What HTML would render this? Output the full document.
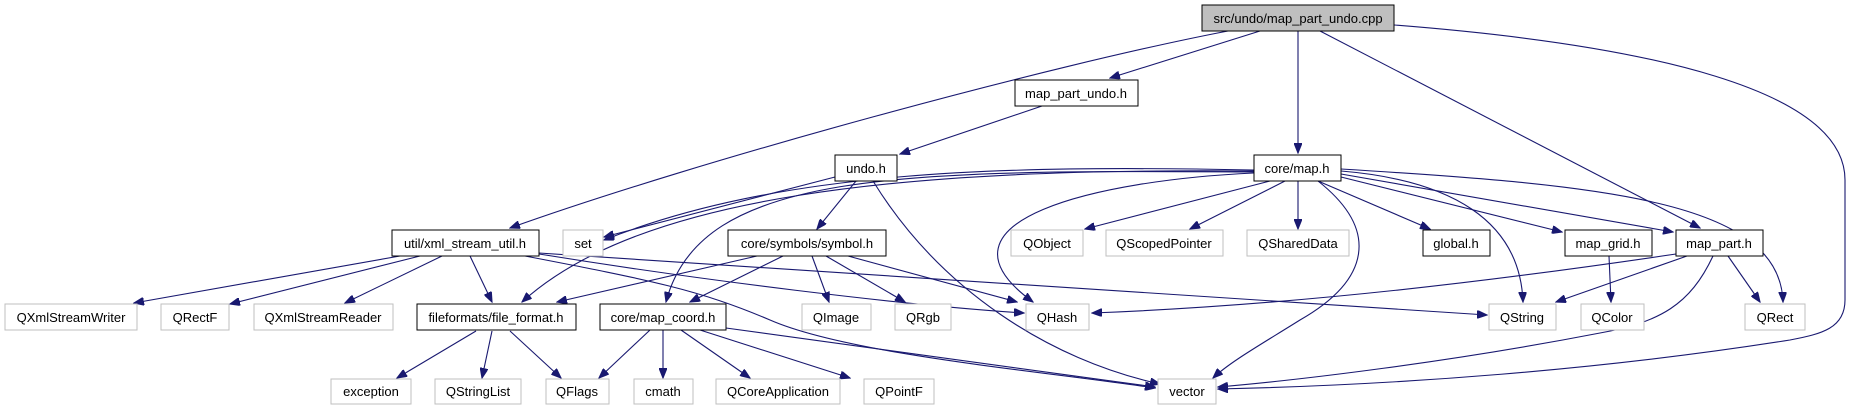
<!DOCTYPE html>
<html><head><meta charset="utf-8"><style>
html,body{margin:0;padding:0;background:#fff;width:1857px;height:411px;overflow:hidden}
svg{display:block}
text{font-family:"Liberation Sans",sans-serif;font-size:13px;text-anchor:middle;fill:#000}
.b{fill:#fff;stroke:#000;stroke-width:1}
.g{fill:#fff;stroke:#bfbfbf;stroke-width:1}
path{fill:none;stroke:#191970;stroke-width:1.1}
</style></head><body>
<svg width="1857" height="411" viewBox="0 0 1857 411" xmlns="http://www.w3.org/2000/svg">
<defs><marker id="a" markerWidth="11" markerHeight="8" refX="10" refY="4" orient="auto" markerUnits="userSpaceOnUse"><path d="M0,0 L10,4 L0,8 Z" style="fill:#191970;stroke:#191970"/></marker></defs>
<g marker-end="url(#a)">
<path d="M1228,31 C1050,65 700,160 510,228"/>
<path d="M1260,31 L1110,78"/>
<path d="M1298,31 L1298,153"/>
<path d="M1320,31 L1700,228"/>
<path d="M1394,25 C1650,45 1845,90 1845,180 L1845,300 C1845,328 1822,334 1790,340 C1600,370 1400,385 1218,389"/>
<path d="M1042,106 L900,154"/>
<path d="M835,177 L604,237"/>
<path d="M856,181 L817,229"/>
<path d="M873,181 C940,290 1050,360 1160,384"/>
<path d="M1254,170 C1000,165 780,170 604,240"/>
<path d="M1254,171 C900,168 640,195 522,302"/>
<path d="M1254,172 C900,170 700,170 666,302"/>
<path d="M1254,173 C1100,180 920,220 1033,302"/>
<path d="M1270,181 L1085,229"/>
<path d="M1285,181 L1190,229"/>
<path d="M1298,181 L1298,229"/>
<path d="M1318,181 L1430,229"/>
<path d="M1341,177 L1562,232"/>
<path d="M1341,174 L1673,232"/>
<path d="M1341,171 C1450,180 1520,220 1523,302"/>
<path d="M1341,169 C1600,185 1780,200 1783,302"/>
<path d="M1318,181 C1380,230 1370,280 1300,320 C1260,345 1230,362 1213,378"/>
<path d="M400,256 L134,303"/>
<path d="M420,256 L230,304"/>
<path d="M442,256 L345,303"/>
<path d="M470,256 L492,302"/>
<path d="M539,254 C700,280 900,305 1024,313"/>
<path d="M539,253 C800,270 1100,290 1487,315"/>
<path d="M525,256 C650,280 700,290 770,320 C850,355 1050,372 1155,388"/>
<path d="M757,256 L557,302"/>
<path d="M783,256 L690,302"/>
<path d="M812,256 L829,302"/>
<path d="M826,256 L905,302"/>
<path d="M848,256 L1017,302"/>
<path d="M476,331 L397,378"/>
<path d="M492,331 L482,378"/>
<path d="M510,331 L561,378"/>
<path d="M650,330 L599,378"/>
<path d="M663,330 L663,378"/>
<path d="M681,330 L750,378"/>
<path d="M700,330 L850,378"/>
<path d="M726,328 L1155,387"/>
<path d="M1609,256 L1611,302"/>
<path d="M1676,254 C1500,280 1300,305 1092,313"/>
<path d="M1687,256 L1556,302"/>
<path d="M1728,256 L1760,302"/>
<path d="M1713,256 C1690,305 1660,322 1600,333 C1450,362 1300,380 1218,387"/>
</g>
<rect x="1202" y="5" width="192" height="26" style="fill:#bfbfbf;stroke:#000"/><text x="1298" y="23">src/undo/map_part_undo.cpp</text>
<rect class="b" x="1015" y="80" width="123" height="26"/><text x="1076" y="98">map_part_undo.h</text>
<rect class="b" x="835" y="155" width="62" height="26"/><text x="866" y="173">undo.h</text>
<rect class="b" x="1254" y="155" width="87" height="26"/><text x="1297" y="173">core/map.h</text>
<rect class="b" x="392" y="230" width="147" height="26"/><text x="465" y="248">util/xml_stream_util.h</text>
<rect class="g" x="563" y="230" width="40" height="26"/><text x="583" y="248">set</text>
<rect class="b" x="728" y="230" width="158" height="26"/><text x="807" y="248">core/symbols/symbol.h</text>
<rect class="g" x="1011" y="230" width="72" height="26"/><text x="1047" y="248">QObject</text>
<rect class="g" x="1106" y="230" width="117" height="26"/><text x="1164" y="248">QScopedPointer</text>
<rect class="g" x="1247" y="230" width="102" height="26"/><text x="1298" y="248">QSharedData</text>
<rect class="b" x="1423" y="230" width="67" height="26"/><text x="1456" y="248">global.h</text>
<rect class="b" x="1565" y="230" width="87" height="26"/><text x="1608" y="248">map_grid.h</text>
<rect class="b" x="1676" y="230" width="87" height="26"/><text x="1719" y="248">map_part.h</text>
<rect class="g" x="5" y="304" width="132" height="26"/><text x="71" y="322">QXmlStreamWriter</text>
<rect class="g" x="161" y="304" width="68" height="26"/><text x="195" y="322">QRectF</text>
<rect class="g" x="254" y="304" width="139" height="26"/><text x="323" y="322">QXmlStreamReader</text>
<rect class="b" x="417" y="304" width="159" height="26"/><text x="496" y="322">fileformats/file_format.h</text>
<rect class="b" x="600" y="304" width="126" height="26"/><text x="663" y="322">core/map_coord.h</text>
<rect class="g" x="802" y="304" width="69" height="26"/><text x="836" y="322">QImage</text>
<rect class="g" x="895" y="304" width="56" height="26"/><text x="923" y="322">QRgb</text>
<rect class="g" x="1026" y="304" width="63" height="26"/><text x="1057" y="322">QHash</text>
<rect class="g" x="1489" y="304" width="67" height="26"/><text x="1522" y="322">QString</text>
<rect class="g" x="1581" y="304" width="63" height="26"/><text x="1612" y="322">QColor</text>
<rect class="g" x="1745" y="304" width="60" height="26"/><text x="1775" y="322">QRect</text>
<rect class="g" x="331" y="379" width="80" height="25"/><text x="371" y="396">exception</text>
<rect class="g" x="435" y="379" width="86" height="25"/><text x="478" y="396">QStringList</text>
<rect class="g" x="546" y="379" width="63" height="25"/><text x="577" y="396">QFlags</text>
<rect class="g" x="634" y="379" width="59" height="25"/><text x="663" y="396">cmath</text>
<rect class="g" x="716" y="379" width="124" height="25"/><text x="778" y="396">QCoreApplication</text>
<rect class="g" x="864" y="379" width="70" height="25"/><text x="899" y="396">QPointF</text>
<rect class="g" x="1158" y="379" width="58" height="25"/><text x="1187" y="396">vector</text>
</svg>
</body></html>
